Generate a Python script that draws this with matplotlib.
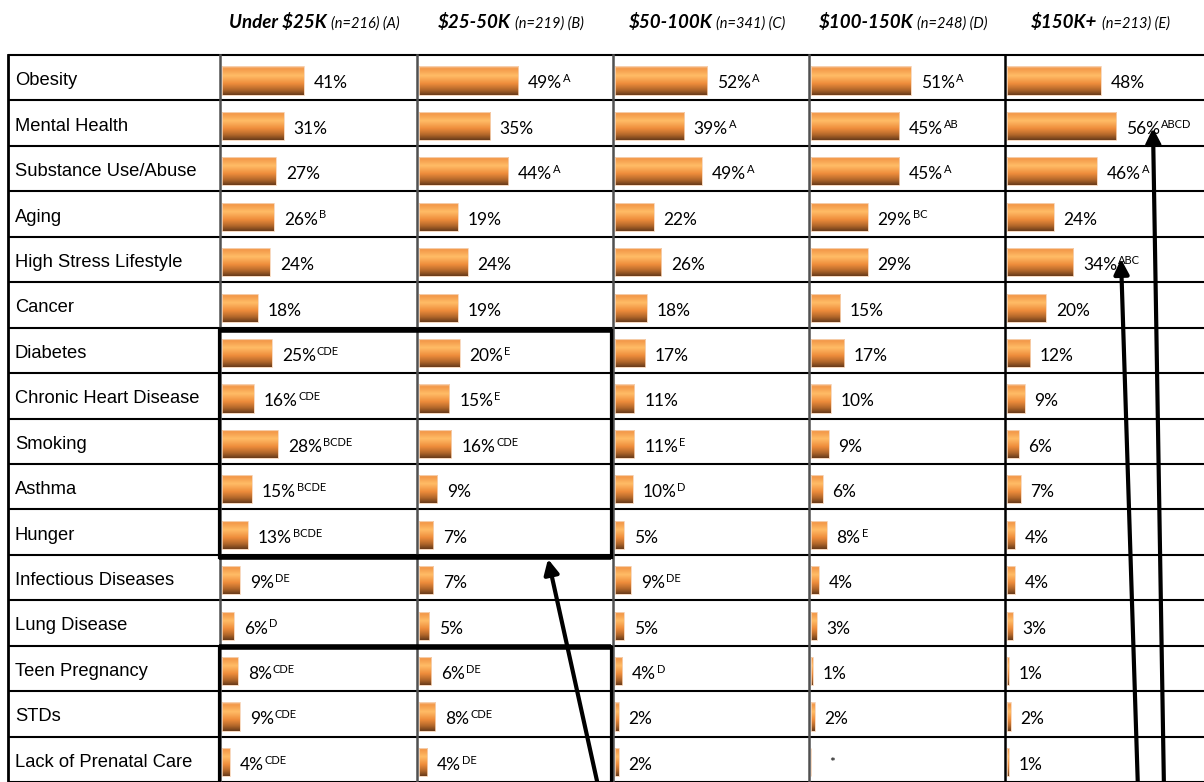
import matplotlib.pyplot as plt
import numpy as np
from matplotlib.colors import LinearSegmentedColormap

# dados da tabela
linhas = ["Obesity", "Mental Health", "Substance Use/Abuse", "Aging",
          "High Stress Lifestyle", "Cancer", "Diabetes", "Chronic Heart Disease",
          "Smoking", "Asthma", "Hunger", "Infectious Diseases", "Lung Disease",
          "Teen Pregnancy", "STDs", "Lack of Prenatal Care"]

cab_negrito = ["Under $25K", "$25-50K", "$50-100K", "$100-150K", "$150K+"]
cab_italico = ["(n=216) (A)", "(n=219) (B)", "(n=341) (C)", "(n=248) (D)", "(n=213) (E)"]

val_a = [41, 31, 27, 26, 24, 18, 25, 16, 28, 15, 13, 9, 6, 8, 9, 4]
sup_a = ["", "", "", "B", "", "", "CDE", "CDE", "BCDE", "BCDE", "BCDE", "DE", "D", "CDE", "CDE", "CDE"]
val_b = [49, 35, 44, 19, 24, 19, 20, 15, 16, 9, 7, 7, 5, 6, 8, 4]
sup_b = ["A", "", "A", "", "", "", "E", "E", "CDE", "", "", "", "", "DE", "CDE", "DE"]
val_c = [52, 39, 49, 22, 26, 18, 17, 11, 11, 10, 5, 9, 5, 4, 2, 2]
sup_c = ["A", "A", "A", "", "", "", "", "", "E", "D", "", "DE", "", "D", "", ""]
val_d = [51, 45, 45, 29, 29, 15, 17, 10, 9, 6, 8, 4, 3, 1, 2, None]
sup_d = ["A", "AB", "A", "BC", "", "", "", "", "", "", "E", "", "", "", "", ""]
val_e = [48, 56, 46, 24, 34, 20, 12, 9, 6, 7, 4, 4, 3, 1, 2, 1]
sup_e = ["", "ABCD", "A", "", "ABC", "", "", "", "", "", "", "", "", "", "", ""]

valores = [val_a, val_b, val_c, val_d, val_e]
sobrescritos = [sup_a, sup_b, sup_c, sup_d, sup_e]

# layout (pixels)
W, H = 1204, 782
topo = 55
n = len(linhas)
alt_linha = (H - topo) / n
bordas = [8, 220, 417, 613, 809, 1005, 1204]
px_por_pct = [2.0, 2.03, 1.77, 1.96, 1.95]

fonte_val = "Lato"
fonte_rot = "Liberation Sans"

degrade = LinearSegmentedColormap.from_list("barra", [
    (0.0, "#F7C9A0"), (0.08, "#F39848"), (0.33, "#FFBC66"),
    (0.6, "#EF8D3C"), (0.82, "#B4682B"), (1.0, "#6A3C1A")])
grad = np.linspace(0, 1, 64).reshape(-1, 1)

fig = plt.figure(figsize=(W / 100, H / 100), dpi=100)
fundo = fig.add_axes([0, 0, 1, 1], zorder=0)
fundo.set_xlim(0, W)
fundo.set_ylim(H, 0)
fundo.axis("off")

# grade da tabela
for k in range(n + 1):
    y = topo + k * alt_linha
    fundo.plot([bordas[0], W], [y, y], color="black", lw=1.5, solid_capstyle="butt")
fundo.plot([bordas[0], bordas[0]], [topo, H], color="black", lw=2)
for x in bordas[1:5]:
    fundo.plot([x, x], [topo, H], color="#505050", lw=1.8)
fundo.plot([bordas[5], bordas[5]], [topo, H], color="black", lw=1.8)

# rótulos das linhas
for i, nome in enumerate(linhas):
    fundo.text(15, topo + (i + 0.5) * alt_linha + 3, nome, fontsize=13.2,
               family=fonte_rot, va="center", ha="left")

# barras por coluna
for c in range(5):
    esq, dir_ = bordas[c + 1], bordas[c + 2]
    ax = fig.add_axes([esq / W, 0, (dir_ - esq) / W, (H - topo) / H], zorder=1)
    ax.patch.set_alpha(0)
    ax.axis("off")
    xmin = -2 / px_por_pct[c]
    xmax = (dir_ - esq - 2) / px_por_pct[c]
    pos = np.arange(n) + 0.56
    vals = [v if v is not None else 0 for v in valores[c]]
    barras = ax.barh(pos, vals, height=0.62, color="none",
                     edgecolor="#F6D2B4", linewidth=0.6, zorder=3)
    for b, v in zip(barras, valores[c]):
        if v is None or v == 0:
            continue
        yb = b.get_y()
        im = ax.imshow(grad, extent=(0, v, yb + b.get_height(), yb), cmap=degrade,
                       aspect="auto", origin="upper", zorder=2, interpolation="bilinear")
        im.set_clip_path(b)
    ax.set_xlim(xmin, xmax)
    ax.set_ylim(n, 0)
    for i, v in enumerate(valores[c]):
        if v is None:
            ax.annotate("*", xy=(0, pos[i]), xytext=(13, 0), textcoords="offset points",
                        va="center_baseline", ha="left", fontsize=10, family=fonte_val)
            continue
        t = ax.annotate(f"{v}%", xy=(v, pos[i]), xytext=(7, -1), textcoords="offset points",
                        va="center_baseline", ha="left", fontsize=12.5, family=fonte_val)
        if sobrescritos[c][i]:
            ax.annotate(sobrescritos[c][i], xy=(1, 0.45), xycoords=t, xytext=(0.8, 0),
                        textcoords="offset points", va="bottom", ha="left",
                        fontsize=8, family=fonte_val)

# cabeçalhos
cabs = []
for c in range(5):
    t1 = fundo.text(0, 28, cab_negrito[c], fontsize=13.5, family=fonte_val,
                    weight="bold", style="italic", va="baseline", ha="left")
    t2 = fundo.text(0, 28, cab_italico[c], fontsize=10.5, family=fonte_val,
                    style="italic", va="baseline", ha="left")
    cabs.append((t1, t2))
fig.canvas.draw()
r = fig.canvas.get_renderer()
for c, (t1, t2) in enumerate(cabs):
    w1 = t1.get_window_extent(r).width
    w2 = t2.get_window_extent(r).width
    larg = w1 + 4 + w2
    centro = (bordas[c + 1] + bordas[c + 2]) / 2 - 4
    t1.set_x(centro - larg / 2)
    t2.set_x(centro - larg / 2 + w1 + 4)

# caixas e setas em destaque
cima = fig.add_axes([0, 0, 1, 1], zorder=3)
cima.patch.set_alpha(0)
cima.set_xlim(0, W)
cima.set_ylim(H, 0)
cima.axis("off")
y6 = topo + 6 * alt_linha + 2
y11 = topo + 11 * alt_linha + 2
y13 = topo + 13 * alt_linha + 1
xe, xd = 219, 611
cima.plot([xe, xd], [y6, y6], color="black", lw=4, solid_capstyle="butt")
cima.plot([xe, xd], [y11, y11], color="black", lw=4, solid_capstyle="butt")
cima.plot([xe, xe], [y6, y11], color="black", lw=2.3)
cima.plot([xd, xd], [y6, y11], color="black", lw=2.3)
cima.plot([xe, xd], [y13, y13], color="black", lw=4, solid_capstyle="butt")
cima.plot([xe, xe], [y13, H], color="black", lw=2.3)
cima.plot([xd, xd], [y13, H], color="black", lw=2.3)

setas = [((548, 559), (599, 790)), ((1121, 259), (1138, 790)), ((1153, 128), (1164, 790))]
for ponta, cauda in setas:
    cima.annotate("", xy=ponta, xytext=cauda,
                  arrowprops=dict(arrowstyle="-|>", lw=3, color="black",
                                  mutation_scale=22, shrinkA=0, shrinkB=0))

fig.savefig("out.png", dpi=100)
